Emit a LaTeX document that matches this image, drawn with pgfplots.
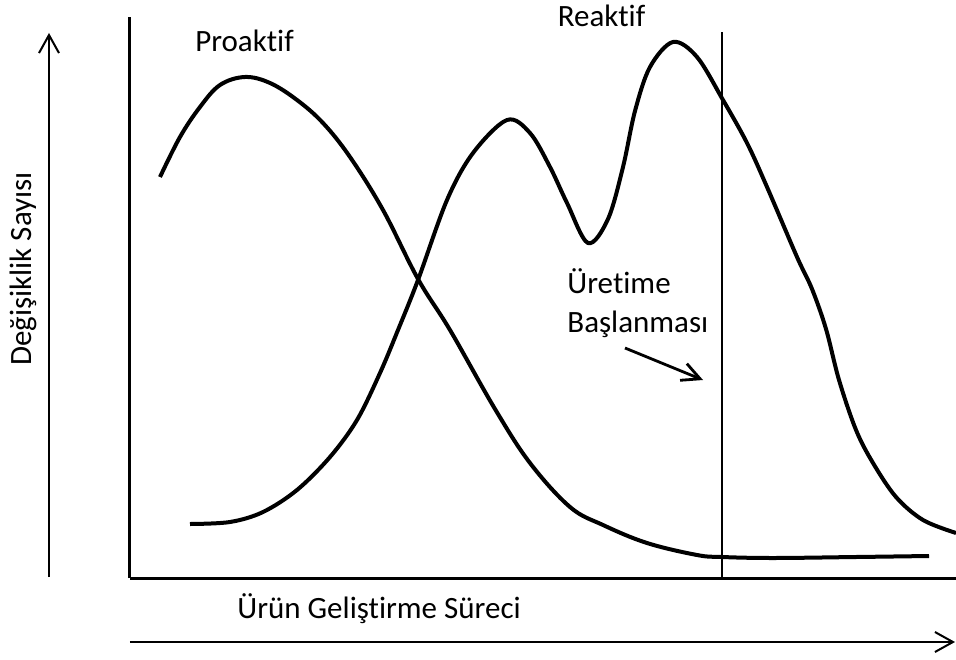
\documentclass[border=0pt]{standalone}
\usepackage{fontspec}
\setmainfont{Carlito}[Ligatures=NoCommon]
\usepackage{pgfplots}
\pgfplotsset{compat=1.18}
\usetikzlibrary{arrows.meta}

% Proactive changes: many early, few after production start
\pgfplotstableread{
x y
160 482
180 522
200 552
220 574
245 582
270 576
297 559
323 536
350 502
383 449
418 380
450 329
495 250
530 196
570 152
603 134
647 116
697 104
722 102
773 101
856 102
929 103
}\proaktif

% Reactive changes: two late peaks, tail after production start
\pgfplotstableread{
x y
190 135
230 137
263 147
297 169
330 202
357 239
380 286
398 329
418 379
447 459
473 506
507 539
530 526
550 492
567 456
588 416
608 440
623 492
635 548
650 592
673 617
697 602
723 559
747 516
767 472
797 402
812 370
826 330
839 279
856 229
873 196
896 162
923 139
956 126
}\reaktif

\begin{document}
\begin{tikzpicture}[font=\fontsize{15.5}{18}\selectfont]
\begin{axis}[
  scale only axis,
  width=413pt, height=280.5pt,
  xmin=130, xmax=956, ymin=81, ymax=642,
  axis x line=bottom, axis y line=left,
  axis line style={-, line width=1.5pt, black},
  xtick=\empty, ytick=\empty,
  clip=false,
]
  \addplot[black, line width=2pt, smooth, tension=0.6] table {\proaktif};
  \addplot[black, line width=2pt, smooth, tension=0.55] table {\reaktif};
  % start of production
  \addplot[black, line width=1.4pt] coordinates {(722,81) (722,627)};

  % outer arrows
  \draw[line width=1pt, -{Straight Barb[length=9pt, width=10pt, line width=1pt]}]
    (axis cs:49,82) -- (axis cs:49,626);
  \draw[line width=1pt, -{Straight Barb[length=9pt, width=10pt, line width=1pt]}]
    (axis cs:130,17) -- (axis cs:955,17);
  \draw[line width=1.4pt, -{Straight Barb[length=9pt, width=9pt, line width=1.4pt]}]
    (axis cs:625,311) -- (axis cs:703,279);

  \node[anchor=base] at (axis cs:244.5,607) {Proaktif};
  \node[anchor=base] at (axis cs:601.5,632) {Reaktif};
  \node[anchor=base west, inner sep=0pt] at (axis cs:567,366) {Üretime};
  \node[anchor=base west, inner sep=0pt] at (axis cs:567,327) {Başlanması};
  \node[anchor=base west, inner sep=0pt] at (axis cs:237,41) {Ürün Geliştirme Süreci};
  \node[anchor=base, inner sep=0pt, rotate=90] at (axis cs:32,390) {Değişiklik Sayısı};

  \coordinate (bl) at (axis cs:0,0);
  \coordinate (tr) at (axis cs:956,659);
\end{axis}
\pgfresetboundingbox
\path (bl) rectangle (tr);
\end{tikzpicture}
\end{document}
